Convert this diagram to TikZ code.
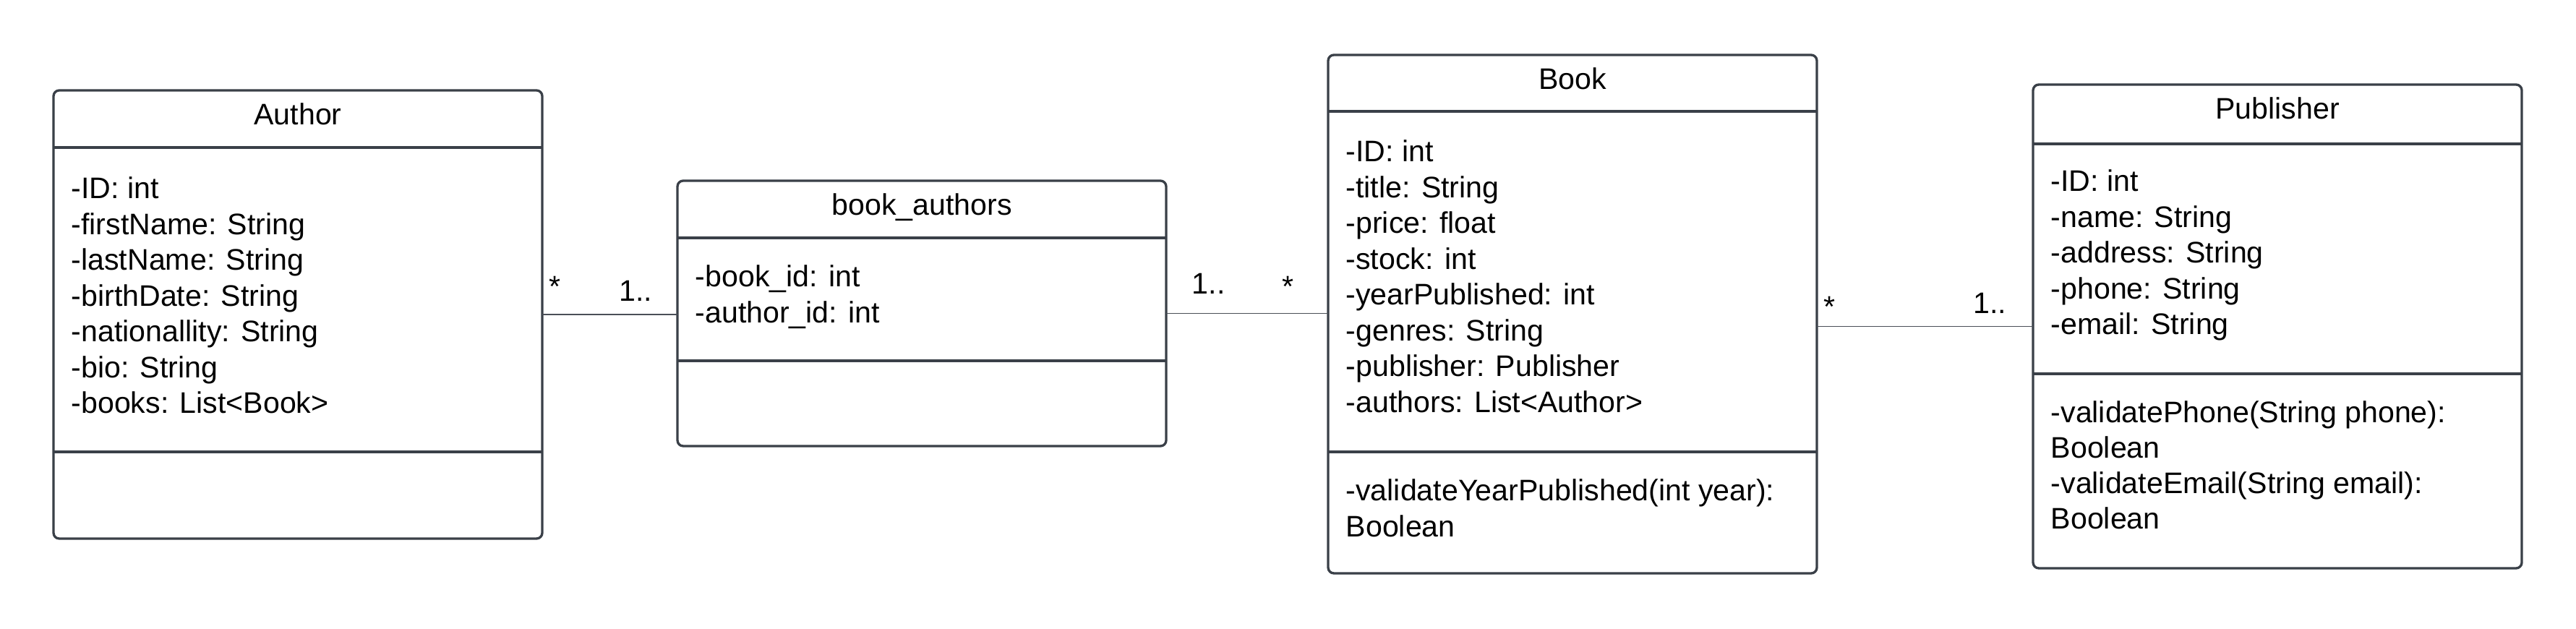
\documentclass[tikz,border=0pt]{standalone}
\usepackage{fontspec}
\setmainfont{Liberation Sans}
\usepackage{xcolor}
\usepackage{tikz}
\definecolor{boxline}{RGB}{58,64,72}
\definecolor{linkline}{RGB}{74,79,87}
\newcommand{\umlfont}{\fontsize{11.7}{14.1}\selectfont}

\begin{document}
\begin{tikzpicture}[x=1cm,y=1cm,
  classbox/.style={draw=boxline,line width=0.95pt,rounded corners=0.08cm,
    minimum width=6.76cm,inner sep=0,outer sep=0,anchor=north west},
  cline/.style={boxline,line width=0.95pt},
  link/.style={linkline,line width=0.5pt},
  ctitle/.style={anchor=base,inner sep=0,font=\umlfont},
  cbody/.style={anchor=base west,inner sep=0,font=\umlfont},
  mult/.style={inner sep=0,font=\umlfont}]
  % --- Dimensions ---
  \def\PageW{35.63}
  \def\PageH{8.70}
  \def\pad{0.24}                        % retrait du texte dans les boites
  \def\lh{0.495}                        % interligne
  \fill[white] (0,0) rectangle (\PageW,-\PageH);
  \useasboundingbox (0,0) rectangle (\PageW,-\PageH);

  % --- Boites des classes : nom/titre/x gauche/haut/bas/ligne titre/separateur ---
  \foreach \nm/\ttl/\xl/\yt/\yb/\yh/\yd in {%
      author/Author/0.74/-1.25/-7.45/-2.04/-6.25,
      bookauthors/book\_authors/9.37/-2.50/-6.17/-3.29/-4.99,
      book/Book/18.37/-0.76/-7.93/-1.54/-6.25,
      publisher/Publisher/28.12/-1.17/-7.86/-1.99/-5.17}{%
    \pgfmathsetmacro{\hh}{\yt-\yb}
    \node[classbox,minimum height=\hh cm] (\nm) at (\xl,\yt) {};
    \draw[cline] (\nm.west |- 0,\yh) -- (\nm.east |- 0,\yh);
    \draw[cline] (\nm.west |- 0,\yd) -- (\nm.east |- 0,\yd);
    \node[ctitle] (\nm-title) at ([yshift=-0.48cm]\nm.north) {\ttl};
  }

  % --- Attributs ---
  \foreach \txt [count=\i] in {-ID: int,-firstName: String,-lastName: String,
      -birthDate: String,-nationallity: String,-bio: String,-books: List<Book>}{%
    \node[cbody] (author-a\i) at ({0.74+\pad},{-2.75-(\i-1)*\lh}) {\txt};
  }
  \foreach \txt [count=\i] in {-book\_id: int,-author\_id: int}{%
    \node[cbody] (bookauthors-a\i) at ({9.37+\pad},{-3.97-(\i-1)*\lh}) {\txt};
  }
  \foreach \txt [count=\i] in {-ID: int,-title: String,-price: float,-stock: int,
      -yearPublished: int,-genres: String,-publisher: Publisher,-authors: List<Author>}{%
    \node[cbody] (book-a\i) at ({18.37+\pad},{-2.24-(\i-1)*\lh}) {\txt};
  }
  \foreach \txt [count=\i] in {-ID: int,-name: String,-address: String,
      -phone: String,-email: String}{%
    \node[cbody] (publisher-a\i) at ({28.12+\pad},{-2.65-(\i-1)*\lh}) {\txt};
  }

  % --- Methodes ---
  \foreach \txt [count=\i] in {-validateYearPublished(int year):,Boolean}{%
    \node[cbody] (book-m\i) at ({18.37+\pad},{-6.93-(\i-1)*\lh}) {\txt};
  }
  \foreach \txt [count=\i] in {-validatePhone(String phone):,Boolean,
      -validateEmail(String email):,Boolean}{%
    \node[cbody] (publisher-m\i) at ({28.12+\pad},{-5.85-(\i-1)*0.49}) {\txt};
  }

  % --- Associations ---
  \coordinate (bookpub) at (book.east |- publisher.west);
  \draw[link] (author.east) -- (author.east -| bookauthors.west);
  \draw[link] (bookauthors.east) -- (bookauthors.east -| book.west);
  \draw[link] (bookpub) -- (publisher.west);

  % --- Multiplicites ---
  \node[mult,anchor=base west] (author-mult) at ([xshift=0.09cm,yshift=0.24cm]author.east) {*};
  \node[mult,anchor=base east] (bookauthors-mult-l) at ([xshift=-0.34cm,yshift=0.165cm]bookauthors.west) {1..};
  \node[mult,anchor=base west] (bookauthors-mult-r) at ([xshift=0.35cm,yshift=0.265cm]bookauthors.east) {1..};
  \node[mult,anchor=base east] (book-mult-l) at ([xshift=-0.47cm,yshift=0.235cm]book.west) {*};
  \node[mult,anchor=base west] (book-mult-r) at ([xshift=0.09cm,yshift=0.13cm]bookpub) {*};
  \node[mult,anchor=base east] (publisher-mult) at ([xshift=-0.36cm,yshift=0.175cm]publisher.west) {1..};
\end{tikzpicture}
\end{document}
